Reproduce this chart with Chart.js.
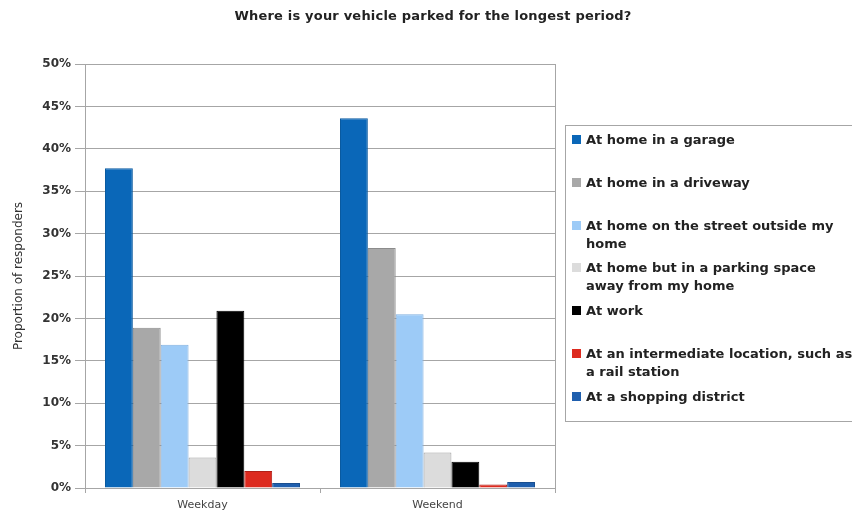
<!DOCTYPE html>
<html>
<head>
<meta charset="utf-8">
<script src="https://cdn.jsdelivr.net/npm/chart.js@4/dist/chart.umd.min.js"></script>
<style>
  html, body { margin: 0; padding: 0; background: #fff; overflow: hidden; }
  #wrap { position: relative; width: 852px; height: 516px; }
  #chart { position: absolute; left: 0; top: 0; }
  #title {
    position: absolute; left: 0; top: 8px; width: 866px;
    text-align: center; font: bold 13px "DejaVu Sans"; line-height: 16px; color: #222;
    letter-spacing: 0.2px;
  }
  #legend {
    position: absolute; left: 565px; top: 125px; width: 320px; height: 297px;
    border: 1px solid #a6a6a6; box-sizing: border-box;
  }
  .item {
    position: absolute; left: 20px; white-space: pre;
    font: bold 13px "DejaVu Sans"; line-height: 18px; color: #222;
  }
  .swatch { position: absolute; left: -14px; top: 4px; width: 9px; height: 9px; }
</style>
</head>
<body>
<div id="wrap">
  <canvas id="chart" width="852" height="516"></canvas>
  <div id="title">Where is your vehicle parked for the longest period?</div>
  <div id="legend"></div>
</div>
<script>
// categories on the x axis
const periods = ['Weekday', 'Weekend']

// one series per parking location (line breaks as in the legend)
const locations = [
  'At home in a garage',
  'At home in a driveway',
  'At home on the street outside my\nhome',
  'At home but in a parking space\naway from my home',
  'At work',
  'At an intermediate location, such as\na rail station',
  'At a shopping district'
]

// proportion of responders, in %
const weekdayShare = [37.7, 18.9, 16.9, 3.6, 20.9, 2.0, 0.6]
const weekendShare = [43.6, 28.3, 20.5, 4.2, 3.1, 0.4, 0.7]

const yTicks = [0, 5, 10, 15, 20, 25, 30, 35, 40, 45, 50]

const fills = ['#0a67b8', '#a8a8a8', '#9dcbf7', '#dcdcdc', '#000000', '#dd2a1f', '#1f5fae']
const edges = ['#0a5aa0', '#8c8c8c', '#80b0e0', '#a0a0a0', '#000000', '#b02018', '#1a4f90']

const gridColor = '#a6a6a6'

// right side of the plot frame
const frame = {
  id: 'frame',
  afterDraw (chart) {
    const { ctx, chartArea: a } = chart
    ctx.save()
    ctx.strokeStyle = gridColor
    ctx.lineWidth = 1
    ctx.beginPath()
    ctx.moveTo(a.right + 0.5, a.top)
    ctx.lineTo(a.right + 0.5, a.bottom)
    ctx.stroke()
    ctx.restore()
  }
}

new Chart(document.getElementById('chart'), {
  type: 'bar',
  data: {
    labels: periods,
    datasets: locations.map((name, i) => ({
      label: name,
      data: [weekdayShare[i], weekendShare[i]],
      backgroundColor: fills[i],
      borderColor: edges[i],
      borderWidth: 1,
      categoryPercentage: 0.83,
      barPercentage: 1.0
    }))
  },
  options: {
    responsive: false,
    animation: false,
    devicePixelRatio: 1,
    layout: { padding: { top: 64, right: 297, left: 0, bottom: 0 } },
    plugins: {
      legend: { display: false },
      title: { display: false },
      tooltip: { enabled: false }
    },
    scales: {
      x: {
        afterFit: (s) => { s.height = 28 },
        grid: { drawOnChartArea: false, tickLength: 5, color: gridColor },
        border: { color: gridColor },
        ticks: { padding: 6, color: '#444', font: { family: 'DejaVu Sans', size: 11 } }
      },
      y: {
        min: 0,
        max: 50,
        afterFit: (s) => { s.width = 85 },
        afterBuildTicks: (s) => { s.ticks = yTicks.map(v => ({ value: v })) },
        grid: { color: gridColor, tickLength: 10 },
        border: { color: gridColor },
        ticks: {
          padding: 4,
          color: '#333',
          font: { family: 'DejaVu Sans', size: 12, weight: 'bold' },
          callback: (v) => v + '%'
        },
        title: {
          display: true,
          text: 'Proportion of responders',
          color: '#333',
          padding: { top: 12, bottom: 0 },
          font: { family: 'DejaVu Sans', size: 12 }
        }
      }
    }
  },
  plugins: [frame]
})

// legend built from the same arrays
const legend = document.getElementById('legend')
locations.forEach((name, i) => {
  const item = document.createElement('div')
  item.className = 'item'
  item.style.top = (5 + i * 42.8) + 'px'
  const sw = document.createElement('span')
  sw.className = 'swatch'
  sw.style.background = fills[i]
  item.appendChild(sw)
  item.appendChild(document.createTextNode(name))
  legend.appendChild(item)
})
</script>
</body>
</html>
